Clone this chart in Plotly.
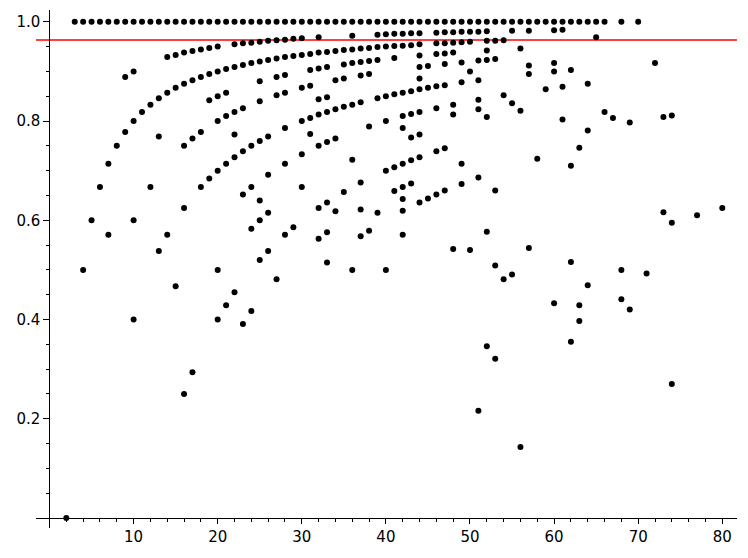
import plotly.graph_objects as go

# n values whose ratio sits at exactly 1.0
ones_n = [3, 4, 5, 6, 7, 8, 9, 10, 11, 12, 13, 14, 15, 16, 17, 18, 19, 20,
          21, 22, 23, 24, 25, 26, 27, 28, 29, 30, 31, 32, 33, 34, 35, 36, 37, 38, 39, 40,
          41, 42, 43, 44, 45, 46, 47, 48, 49, 50, 51, 52, 53, 54, 55, 56, 57, 58, 59, 60,
          61, 62, 63, 64, 65, 66, 68, 70]

# n = 2 .. 20
n_a = [2, 4, 5, 6, 7, 7, 8, 9, 9, 10, 10, 10, 10, 11, 12, 12, 13, 13, 13,
       14, 14, 14, 15, 15, 15, 16, 16, 16, 16, 16, 17, 17, 17, 17,
       18, 18, 18, 18, 19, 19, 19, 19, 20, 20, 20, 20, 20, 20, 20]
r_a = [0.0, 0.5, 0.6, 0.667, 0.714, 0.571, 0.75, 0.889, 0.778, 0.9, 0.8, 0.6, 0.4, 0.818, 0.833, 0.667, 0.846, 0.769, 0.538,
       0.929, 0.857, 0.571, 0.933, 0.867, 0.467, 0.938, 0.875, 0.75, 0.625, 0.25, 0.941, 0.882, 0.765, 0.294,
       0.944, 0.889, 0.778, 0.667, 0.947, 0.895, 0.842, 0.684, 0.95, 0.9, 0.85, 0.8, 0.7, 0.5, 0.4]

# n = 21 .. 40
n_b = [21, 21, 21, 21, 21,
       22, 22, 22, 22, 22, 22,
       23, 23, 23, 23, 23, 23,
       24, 24, 24, 24, 24, 24,
       25, 25, 25, 25, 25, 25, 25, 25,
       26, 26, 26, 26, 26, 26,
       27, 27, 27, 27, 27,
       28, 28, 28, 28, 28, 28, 28,
       29, 29, 29,
       30, 30, 30, 30, 30, 30,
       31, 31, 31, 31, 31,
       32, 32, 32, 32, 32, 32, 32, 32,
       33, 33, 33, 33, 33, 33, 33, 33,
       34, 34, 34, 34, 34,
       35, 35, 35, 35, 35,
       36, 36, 36, 36, 36, 36,
       37, 37, 37, 37, 37, 37, 37,
       38, 38, 38, 38, 38,
       39, 39, 39, 39, 39,
       40, 40, 40, 40, 40, 40]
r_b = [0.905, 0.857, 0.810, 0.714, 0.429,
       0.955, 0.909, 0.818, 0.773, 0.727, 0.455,
       0.957, 0.913, 0.826, 0.739, 0.652, 0.391,
       0.958, 0.917, 0.75, 0.667, 0.583, 0.417,
       0.96, 0.92, 0.88, 0.84, 0.76, 0.64, 0.6, 0.52,
       0.962, 0.923, 0.769, 0.692, 0.615, 0.538,
       0.963, 0.926, 0.889, 0.852, 0.481,
       0.964, 0.929, 0.893, 0.857, 0.786, 0.714, 0.571,
       0.966, 0.931, 0.586,
       0.967, 0.933, 0.867, 0.8, 0.733, 0.667,
       0.935, 0.903, 0.871, 0.806, 0.774,
       0.969, 0.938, 0.906, 0.844, 0.813, 0.75, 0.625, 0.563,
       0.939, 0.909, 0.848, 0.818, 0.758, 0.636, 0.576, 0.515,
       0.941, 0.882, 0.824, 0.765, 0.618,
       0.943, 0.914, 0.886, 0.829, 0.657,
       0.972, 0.944, 0.917, 0.833, 0.722, 0.5,
       0.946, 0.919, 0.892, 0.838, 0.676, 0.622, 0.568,
       0.947, 0.921, 0.895, 0.789, 0.579,
       0.974, 0.949, 0.923, 0.846, 0.615,
       0.975, 0.95, 0.85, 0.8, 0.7, 0.5]

# n = 41 .. 60
n_c = [41, 41, 41, 41, 41, 41,
       42, 42, 42, 42, 42, 42, 42, 42, 42, 42,
       43, 43, 43, 43, 43, 43, 43,
       44, 44, 44, 44, 44, 44, 44, 44, 44, 44,
       45, 45, 45,
       46, 46, 46, 46, 46, 46, 46,
       47, 47, 47, 47, 47, 47, 47,
       48, 48, 48, 48, 48, 48,
       49, 49, 49, 49, 49, 49,
       50, 50, 50, 50,
       51, 51, 51, 51, 51, 51, 51,
       52, 52, 52, 52, 52, 52, 52,
       53, 53, 53, 53, 53,
       54, 54, 54,
       55, 55, 55,
       56, 56, 56,
       57, 57, 57, 57,
       58, 59,
       60, 60, 60, 60]
r_c = [0.976, 0.951, 0.927, 0.854, 0.707, 0.659,
       0.976, 0.952, 0.857, 0.810, 0.786, 0.714, 0.667, 0.643, 0.619, 0.571,
       0.977, 0.953, 0.860, 0.814, 0.767, 0.721, 0.674,
       0.977, 0.955, 0.932, 0.909, 0.886, 0.864, 0.818, 0.773, 0.727, 0.636,
       0.911, 0.867, 0.644,
       0.978, 0.957, 0.935, 0.870, 0.826, 0.739, 0.652,
       0.979, 0.957, 0.936, 0.915, 0.872, 0.745, 0.660,
       0.979, 0.958, 0.938, 0.833, 0.813, 0.542,
       0.980, 0.959, 0.918, 0.878, 0.714, 0.673,
       0.98, 0.96, 0.9, 0.54,
       0.980, 0.922, 0.882, 0.843, 0.824, 0.686, 0.216,
       0.981, 0.962, 0.942, 0.923, 0.808, 0.577, 0.346,
       0.962, 0.925, 0.660, 0.509, 0.321,
       0.963, 0.852, 0.481,
       0.982, 0.836, 0.491,
       0.946, 0.821, 0.143,
       0.982, 0.912, 0.895, 0.544,
       0.724, 0.864,
       0.983, 0.917, 0.9, 0.433]

# n = 61 .. 80
n_d = [61, 61, 61, 62, 62, 62, 62, 63, 63, 63, 64, 64, 64, 65, 66, 67,
       68, 68, 69, 69, 71, 72, 73, 73, 74, 74, 74, 77, 80]
r_d = [0.984, 0.869, 0.803, 0.903, 0.710, 0.516, 0.355, 0.746, 0.429, 0.397, 0.875, 0.781, 0.469, 0.969, 0.818, 0.806,
       0.5, 0.441, 0.797, 0.420, 0.493, 0.917, 0.808, 0.616, 0.811, 0.595, 0.270, 0.610, 0.625]

threshold = 0.9634

x_ticks = [10, 20, 30, 40, 50, 60, 70, 80]
y_ticks = [0.2, 0.4, 0.6, 0.8, 1.0]
x_range = [-1.605, 81.75]
y_range = [-0.0201, 1.0238]

xs = ones_n + n_a + n_b + n_c + n_d
ys = [1.0] * len(ones_n) + r_a + r_b + r_c + r_d

fig = go.Figure()
fig.add_trace(go.Scatter(x=xs, y=ys, mode="markers", cliponaxis=False,
                         marker=dict(color="black", size=6, line=dict(width=0))))

fig.add_shape(type="line", xref="paper", yref="y", x0=0, x1=1, y0=threshold, y1=threshold,
              line=dict(color="#ff0000", width=1.6), layer="below")

# the page body has an 8px margin, so the figure is 8px smaller and margins shifted
tickfont = dict(family="DejaVu Sans", size=15, color="black")
fig.update_layout(
    width=740, height=550,
    margin=dict(l=28, r=11, t=2, b=30),
    plot_bgcolor="white", paper_bgcolor="white",
    showlegend=False,
    xaxis=dict(range=x_range, anchor="free", automargin=False,
               position=(0 - y_range[0]) / (y_range[1] - y_range[0]),
               showgrid=False, zeroline=False, showline=True, linecolor="black", linewidth=1.2,
               tickmode="array", tickvals=x_ticks, ticks="outside", ticklen=5, tickwidth=1,
               tickcolor="black", tickfont=tickfont,
               minor=dict(ticks="outside", ticklen=3, tickwidth=1, dtick=2, tick0=0, tickcolor="black")),
    yaxis=dict(range=y_range, anchor="free", automargin=False,
               position=(0 - x_range[0]) / (x_range[1] - x_range[0]),
               showgrid=False, zeroline=False, showline=True, linecolor="black", linewidth=1.2,
               tickmode="array", tickvals=y_ticks, ticktext=["0.2", "0.4", "0.6", "0.8", "1.0"],
               ticks="outside", ticklen=6, tickwidth=1, tickcolor="black", tickfont=tickfont,
               minor=dict(ticks="outside", ticklen=3.5, tickwidth=1, dtick=0.05, tick0=0, tickcolor="black")),
)

fig.write_html("out.html")
